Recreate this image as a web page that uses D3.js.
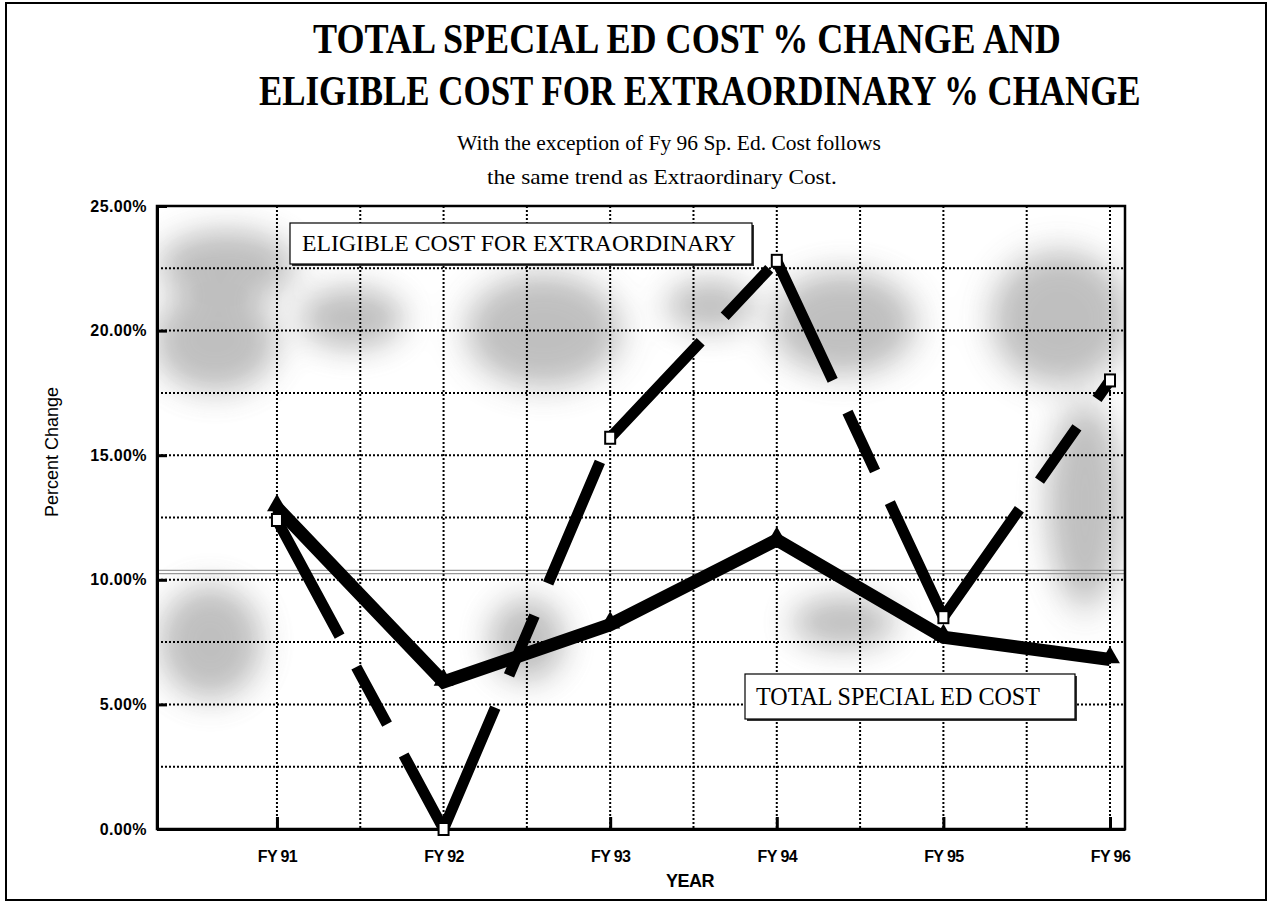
<!DOCTYPE html>
<html><head><meta charset="utf-8">
<script src="https://cdn.jsdelivr.net/npm/d3@7"></script>
<style>body{margin:0;background:#fff} svg{display:block}</style>
</head><body>
<svg id="chart" width="1271" height="903"></svg>
<script>
// ---------- data ----------
const categories = ["FY 91", "FY 92", "FY 93", "FY 94", "FY 95", "FY 96"];
const totalSpecialEdCost = [12.9, 5.9, 8.2, 11.6, 7.7, 6.8];      // % change
const eligibleExtraordinary = [12.4, 0.0, 15.7, 22.8, 8.5, 18.0];  // % change
const yTickValues = [0, 5, 10, 15, 20, 25];
const yTickLabels = ["0.00%", "5.00%", "10.00%", "15.00%", "20.00%", "25.00%"];
const titleLines = ["TOTAL SPECIAL ED COST % CHANGE AND", "ELIGIBLE COST FOR EXTRAORDINARY % CHANGE"];
const subtitleLines = ["With the exception of Fy 96 Sp. Ed. Cost follows", "the same trend as Extraordinary Cost."];
const seriesLabels = ["ELIGIBLE COST FOR EXTRAORDINARY", "TOTAL SPECIAL ED COST"];
const xAxisTitle = "YEAR";
const yAxisTitle = "Percent Change";
// decorative scanned-paper shading (category units, percent units)
const shadeCx = [-0.37, -0.30, 1.60, 3.40, 4.70, 4.85, -0.40, 3.40, 1.50, 0.45, 2.6];
const shadeCy = [19.6, 22.6, 20.0, 20.3, 20.5, 13.0, 7.5, 8.3, 7.6, 20.5, 21.0];
const shadeRx = [0.36, 0.40, 0.45, 0.42, 0.40, 0.22, 0.30, 0.30, 0.22, 0.3, 0.25];
const shadeRy = [2.0, 1.4, 2.2, 2.0, 2.6, 4.0, 2.2, 1.0, 1.6, 1.2, 1.0];

// ---------- layout ----------
const svg = d3.select("#chart");
const W = 1271, H = 903;
const plot = {left: 157, right: 1125, top: 206, bottom: 829};
const x = d3.scaleLinear().domain([-0.72, 5.09]).range([plot.left, plot.right]);
const y = d3.scaleLinear().domain([0, 25]).range([plot.bottom, plot.top]);
const serif = "'Liberation Serif','Times New Roman',serif";
const sans = "'Liberation Sans',Arial,Helvetica,sans-serif";

svg.append("rect").attr("width", W).attr("height", H).attr("fill", "#fff");

const defs = svg.append("defs");
defs.append("clipPath").attr("id", "plotClip").append("rect")
  .attr("x", plot.left).attr("y", plot.top)
  .attr("width", plot.right - plot.left).attr("height", plot.bottom - plot.top);
defs.append("filter").attr("id", "blur").attr("x", "-50%").attr("y", "-50%")
  .attr("width", "200%").attr("height", "200%")
  .append("feGaussianBlur").attr("stdDeviation", 15);
const pat = defs.append("pattern").attr("id", "dots").attr("width", 3).attr("height", 3)
  .attr("patternUnits", "userSpaceOnUse");
pat.append("rect").attr("width", 1.5).attr("height", 1.5).attr("fill", "#555");

// text squeezed horizontally to a target width (tall, narrow type as in the print)
function fitText(parent, text, x0, yb, width, size, family, weight) {
  const t = parent.append("text").attr("font-family", family).attr("font-size", size)
    .attr("font-weight", weight || "normal").attr("x", 0).attr("y", 0).text(text);
  const natural = t.node().getComputedTextLength();
  t.attr("transform", `translate(${x0},${yb}) scale(${width / natural},1)`);
  return t;
}

// outer frame
svg.append("rect").attr("x", 6).attr("y", 3).attr("width", 1260).attr("height", 897)
  .attr("fill", "none").attr("stroke", "#000").attr("stroke-width", 2);

// shading
const shade = svg.append("g").attr("clip-path", "url(#plotClip)");
const shadeG = shade.append("g").attr("filter", "url(#blur)").attr("opacity", 0.5);
shadeCx.forEach((cx, i) => {
  shadeG.append("ellipse")
    .attr("cx", x(cx)).attr("cy", y(shadeCy[i]))
    .attr("rx", x(shadeRx[i]) - x(0)).attr("ry", y(0) - y(shadeRy[i]))
    .attr("fill", "#8a8a8a");
});
const dotG = shade.append("g").attr("opacity", 0.18).attr("filter", "url(#blur)");
shadeCx.forEach((cx, i) => {
  dotG.append("ellipse")
    .attr("cx", x(cx)).attr("cy", y(shadeCy[i]))
    .attr("rx", (x(shadeRx[i]) - x(0)) * 1.3).attr("ry", (y(0) - y(shadeRy[i])) * 1.3)
    .attr("fill", "url(#dots)");
});
// faint scan streak just above 10%
[10.25, 10.38].forEach(v => {
  shade.append("line").attr("x1", plot.left).attr("x2", plot.right)
    .attr("y1", y(v)).attr("y2", y(v)).attr("stroke", "#999").attr("stroke-width", 1.2);
});

// gridlines
const grid = svg.append("g");
d3.range(2.5, 25, 2.5).forEach(v => {
  grid.append("line").attr("x1", plot.left).attr("x2", plot.right)
    .attr("y1", y(v)).attr("y2", y(v))
    .attr("stroke", "#000").attr("stroke-width", 2).attr("stroke-dasharray", "2,2");
});
d3.range(0, 5.01, 0.5).forEach(v => {
  grid.append("line").attr("x1", x(v)).attr("x2", x(v))
    .attr("y1", plot.top).attr("y2", plot.bottom)
    .attr("stroke", "#000").attr("stroke-width", 2).attr("stroke-dasharray", "2,2");
});

// plot frame
svg.append("rect").attr("x", plot.left).attr("y", plot.top)
  .attr("width", plot.right - plot.left).attr("height", plot.bottom - plot.top)
  .attr("fill", "none").attr("stroke", "#000").attr("stroke-width", 2.5);

// y axis
const yAxis = d3.axisLeft(y).tickValues(yTickValues)
  .tickFormat((d, i) => yTickLabels[i]).tickSizeInner(-10).tickSizeOuter(0).tickPadding(20);
const yg = svg.append("g").attr("transform", `translate(${plot.left},0)`).call(yAxis);
yg.select(".domain").attr("stroke-width", 3);
yg.selectAll(".tick line").attr("stroke-width", 3);
yg.selectAll("text").attr("font-family", sans).attr("font-size", 16).attr("font-weight", "bold")
  .attr("letter-spacing", "0.4px").attr("fill", "#000").attr("x", -10);

// x axis
const xAxis = d3.axisBottom(x).tickValues(d3.range(categories.length))
  .tickFormat(i => categories[i]).tickSizeInner(-12).tickSizeOuter(0).tickPadding(22);
const xg = svg.append("g").attr("transform", `translate(0,${plot.bottom})`).call(xAxis);
xg.select(".domain").attr("stroke-width", 3);
xg.selectAll(".tick line").attr("stroke-width", 3);
xg.selectAll("text").attr("font-family", sans).attr("font-size", 16).attr("font-weight", "bold")
  .attr("letter-spacing", "-0.6px").attr("fill", "#000").attr("y", 22);

// axis titles
svg.append("text").attr("x", 690).attr("y", 887).attr("text-anchor", "middle")
  .attr("font-family", sans).attr("font-size", 18).attr("font-weight", "bold")
  .attr("letter-spacing", "-0.5px").text(xAxisTitle);
svg.append("text").attr("transform", "translate(58,452) rotate(-90)").attr("text-anchor", "middle")
  .attr("font-family", sans).attr("font-size", 18).text(yAxisTitle);

// titles
const titleWidths = [748, 882];
const titleCenters = [687, 700];
titleLines.forEach((t, i) => {
  fitText(svg, t, titleCenters[i] - titleWidths[i] / 2, 53 + i * 52, titleWidths[i], 43, serif, "bold");
});
const subWidths = [424, 350];
const subCenters = [669, 662];
subtitleLines.forEach((t, i) => {
  fitText(svg, t, subCenters[i] - subWidths[i] / 2, 150 + i * 34, subWidths[i], 22, serif);
});

// annotation boxes
function labelBox(x0, y0, w, h, tx, ty, tw, fs, text) {
  const g = svg.append("g");
  g.append("rect").attr("x", x0 + 2).attr("y", y0 + 2).attr("width", w).attr("height", h).attr("fill", "#333");
  g.append("rect").attr("x", x0).attr("y", y0).attr("width", w).attr("height", h)
    .attr("fill", "#fff").attr("stroke", "#000").attr("stroke-width", 1.2);
  fitText(g, text, tx, ty, tw, fs, serif);
}
labelBox(290, 223, 462, 41, 302, 251, 434, 24, seriesLabels[0]);
labelBox(745, 674, 330, 45, 756, 705, 284, 26, seriesLabels[1]);

// total special ed cost: solid heavy line with triangle markers
const line = d3.line().x((d, i) => x(i)).y(d => y(d));
svg.append("path").datum(totalSpecialEdCost).attr("d", line)
  .attr("fill", "none").attr("stroke", "#000").attr("stroke-width", 13)
  .attr("stroke-linejoin", "miter").attr("stroke-miterlimit", 6);
svg.selectAll(".tri").data(totalSpecialEdCost).enter().append("path")
  .attr("d", d3.symbol().type(d3.symbolTriangle).size(170))
  .attr("transform", (d, i) => `translate(${x(i)},${y(d) - 2})`).attr("fill", "#000");

// eligible extraordinary: heavy long-short dashed line, pattern restarts each segment
const segG = svg.append("g");
d3.pairs(eligibleExtraordinary.map((v, i) => [i, v])).forEach(([a, b]) => {
  segG.append("path")
    .attr("d", d3.line().x(d => x(d[0])).y(d => y(d[1]))([a, b]))
    .attr("fill", "none").attr("stroke", "#000").attr("stroke-width", 11)
    .attr("stroke-dasharray", "132,35,65,35");
});
svg.selectAll(".sq").data(eligibleExtraordinary).enter().append("rect")
  .attr("x", (d, i) => x(i) - 5).attr("y", d => y(d) - 6)
  .attr("width", 10).attr("height", 12)
  .attr("fill", "#fff").attr("stroke", "#000").attr("stroke-width", 2);
</script>
</body></html>
